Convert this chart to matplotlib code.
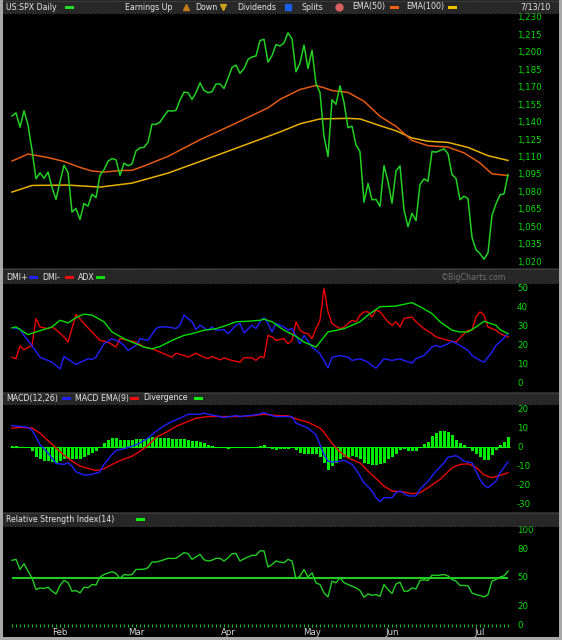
import matplotlib
matplotlib.use("Agg")
import matplotlib.pyplot as plt
from matplotlib.patches import Rectangle
from matplotlib.lines import Line2D
from matplotlib.transforms import blended_transform_factory

# ---------------- data ----------------
# trading days Jan 13 2010 .. Jul 13 2010 (index 0..124)
closes = [1145.68, 1148.46, 1136.03, 1150.23, 1138.04, 1116.48, 1091.76, 1096.78, 1092.17, 1097.50, 1084.53, 1073.87,
          1089.19, 1103.32, 1097.28, 1063.11, 1066.19, 1056.74, 1070.52, 1068.13, 1078.47, 1075.51, 1094.87, 1099.51,
          1106.75, 1109.17, 1108.01, 1094.60, 1105.24, 1102.94, 1104.49,
          1115.71, 1118.31, 1118.79, 1122.97, 1138.70, 1138.50, 1140.45, 1145.61, 1150.24, 1149.99, 1150.51, 1159.46,
          1166.21, 1165.83, 1159.90, 1165.81, 1174.17, 1167.72, 1165.73, 1166.59, 1173.22, 1173.27, 1169.43,
          1178.10, 1187.44, 1189.44, 1182.45, 1186.44, 1194.37, 1196.48, 1197.30, 1210.65, 1211.67, 1192.13, 1197.52,
          1207.17, 1205.94, 1208.67, 1217.28, 1212.05, 1183.71, 1191.36, 1206.78, 1186.69,
          1202.26, 1173.60, 1165.90, 1128.15, 1110.88, 1159.73, 1155.79, 1171.67, 1157.44, 1135.68, 1136.94, 1120.80,
          1115.05, 1071.59, 1087.69, 1073.65, 1074.03, 1067.95, 1103.06, 1089.41,
          1070.71, 1098.38, 1102.83, 1064.88, 1050.47, 1062.00, 1055.69, 1086.84, 1091.60, 1089.63, 1115.23, 1114.61,
          1116.04, 1117.51, 1113.20, 1095.31, 1092.04, 1073.69, 1076.76, 1074.57, 1041.24, 1030.71,
          1027.37, 1022.58, 1028.06, 1060.27, 1070.25, 1077.96, 1078.75, 1095.34]

month_labels = ["Feb", "Mar", "Apr", "May", "Jun", "Jul"]
month_first_idx = [12, 31, 54, 75, 95, 117]

ema50 = [(0, 1107), (4, 1113), (9, 1110), (13, 1106.6), (17, 1101.5), (20, 1098.4), (23, 1097.5), (27, 1098.8),
         (30, 1099), (33, 1102.7), (39, 1111), (47, 1125.3), (55, 1138), (64, 1152.7), (67, 1160), (72, 1168.5),
         (76, 1172), (78, 1170), (80, 1167.6), (84, 1166), (88, 1158.4), (92, 1145.4), (96, 1136.8), (100, 1124.7),
         (104, 1120.2), (109, 1119), (113, 1114), (117, 1105.3), (120, 1096), (124, 1094.5)]
ema100 = [(0, 1080.3), (5, 1086), (14, 1086.3), (22, 1084.6), (30, 1088), (39, 1096.6), (47, 1106.6), (55, 1116.7),
          (67, 1132), (72, 1139), (77, 1143.2), (84, 1143.7), (87, 1143.2), (92, 1137.4), (96, 1133), (100, 1126.8),
          (104, 1124), (109, 1123), (114, 1118.7), (119, 1111.6), (124, 1107.5)]

dmi_plus = [(0, 29.5), (2, 28.6), (3, 25.4), (5, 20), (7, 14), (10, 11.4), (12, 7.9), (13, 14.4), (16, 10.2),
            (19, 13.2), (20, 12.8), (21, 14), (23, 21), (25, 23.7), (27, 21.9), (28, 20.2), (29, 17.5), (31, 20.2),
            (32, 23.7), (34, 22.8), (36, 29), (37, 29.8), (39, 29.8), (41, 29), (42, 30.7), (43, 36), (45, 32.5),
            (46, 28.4), (47, 30.7), (49, 28.1), (50, 29.8), (51, 28.1), (53, 28.4), (54, 26.3), (56, 30.7),
            (57, 31.6), (58, 26.7), (60, 30.7), (61, 29), (62, 32.5), (63, 34.6), (64, 31.6), (65, 27.2),
            (66, 31.6), (68, 29.8), (69, 28.1), (70, 29), (72, 21), (73, 25.4), (75, 19.3), (77, 15.8), (78, 12.3),
            (79, 8.4), (80, 14), (82, 14.9), (84, 14), (85, 12.3), (87, 13.2), (89, 11.4), (90, 9.6), (91, 8.2),
            (93, 13.2), (95, 12.3), (97, 13.2), (98, 12.3), (100, 10.9), (101, 13.2), (103, 14.9), (105, 19.3),
            (106, 20.2), (107, 19.3), (109, 21), (110, 22.3), (112, 20.2), (114, 17.5), (115, 14.9), (117, 12.3),
            (118, 11.4), (120, 16.7), (121, 20.2), (122, 22), (124, 26.3)]
dmi_minus = [(0, 14), (1, 13.2), (2, 19.8), (3, 17.9), (5, 20.2), (6, 34.2), (7, 29.8), (9, 28.9), (10, 29.8),
             (11, 28.4), (13, 24.6), (14, 21.9), (16, 36.3), (18, 31.6), (20, 27.2), (22, 22.8), (24, 21.9),
             (26, 19.3), (27, 23.7), (29, 22.8), (31, 21.9), (33, 19.3), (35, 18.4), (37, 16.7), (40, 14),
             (41, 16.1), (43, 14.9), (44, 14), (46, 16.1), (47, 14.9), (49, 13.2), (50, 14.4), (52, 12.6),
             (53, 13.7), (55, 12.3), (57, 11.4), (58, 13.7), (60, 13.7), (61, 12.3), (62, 14.4), (63, 13.7),
             (64, 25.4), (65, 24.6), (66, 22.8), (68, 23.7), (69, 21), (70, 22.8), (71, 32.5), (72, 28.1),
             (73, 26.7), (74, 26.3), (75, 23.7), (76, 28.9), (77, 33.3), (78, 50), (79, 37.7), (80, 31.6),
             (82, 28.9), (83, 29.8), (85, 33.3), (86, 32.5), (87, 36), (88, 37.7), (89, 37.7), (90, 35),
             (91, 38.6), (92, 37.7), (94, 32.5), (95, 30.7), (96, 32.5), (97, 29.8), (98, 34.2), (100, 35),
             (101, 32.5), (103, 28.9), (105, 26.3), (106, 24.6), (109, 22.8), (111, 21.9), (113, 26.3),
             (114, 28.1), (115, 28.1), (116, 35), (117, 37.7), (118, 36), (119, 29.8), (121, 28.1), (122, 26.3),
             (124, 24.6)]
adx = [(0, 29.3), (1, 29.8), (4, 25.8), (6, 27.2), (10, 29.8), (12, 33.3), (14, 31.9), (16, 34.7), (18, 36.5),
       (20, 36), (23, 32.5), (25, 27.2), (28, 23.7), (30, 21.9), (33, 19.3), (35, 18.4), (37, 19.6), (40, 22.8),
       (43, 25.4), (45, 26.3), (48, 28.1), (51, 28.9), (53, 30.2), (56, 32.5), (59, 32.8), (62, 33.3),
       (63, 33.9), (65, 32.5), (68, 28.1), (71, 24.9), (73, 21.9), (76, 19.3), (78, 24.6), (79, 27.2),
       (83, 28.9), (87, 32.5), (89, 36), (92, 40.4), (96, 40.7), (97, 41.2), (100, 42.5), (102, 40.4),
       (105, 36.8), (107, 32.5), (110, 28.1), (112, 27.2), (114, 27.2), (116, 29.8), (118, 32.8), (121, 30.7),
       (122, 28.4), (124, 26.3)]

macd = [(0, 11.5), (2, 11), (4, 10.5), (5, 9), (6, 5.5), (7, 1.4), (9, -3), (11, -8.5), (13, -9), (14, -8.2),
        (15, -9.9), (16, -12.9), (18, -14.6), (20, -14.3), (22, -12.9), (23, -9), (25, -3.8), (26, -1.7),
        (28, -0.7), (30, 0.5), (32, 2.3), (34, 4.9), (36, 8.4), (38, 11.3), (40, 13.6), (42, 15.3), (44, 17.4),
        (47, 17.4), (48, 18), (49, 17.4), (52, 16.2), (53, 15.7), (56, 16.7), (57, 16.2), (59, 16.7), (61, 17.1),
        (62, 17.6), (63, 18.3), (65, 16.7), (66, 16.2), (69, 16.2), (70, 16.2), (71, 12.7), (73, 11), (74, 10.1),
        (75, 8.4), (76, 6.6), (77, 1.4), (78, -3.8), (79, -7.3), (80, -7.8), (82, -7.3), (83, -6.8), (85, -9),
        (86, -11.7), (88, -18.6), (90, -23), (91, -26.5), (92, -28.6), (93, -26.5), (95, -26.5), (96, -23.9),
        (97, -23), (99, -25.6), (101, -25.6), (102, -22.1), (104, -17.8), (106, -12.5), (108, -8.2), (109, -5.2),
        (111, -4.4), (112, -5.6), (113, -7.3), (115, -8.2), (117, -16.9), (118, -19.9), (119, -21.3),
        (121, -17.8), (122, -13.4), (124, -7.7)]
macd_signal = [(0, 10.1), (2, 10.5), (5, 10.1), (7, 7.5), (9, 3.5), (11, -0.3), (13, -4.2), (15, -7.3),
               (17, -9.9), (19, -11.1), (21, -12.2), (23, -11.3), (25, -9), (27, -7), (30, -4.7), (32, -2.1),
               (34, 1), (36, 5.2), (39, 8.4), (41, 11), (44, 13.6), (46, 15.3), (49, 16.2), (52, 16.2), (54, 16.2),
               (57, 16.2), (60, 16.6), (63, 17.4), (66, 16.7), (69, 16.6), (71, 15), (74, 13.2), (77, 10.1),
               (78, 8.0), (80, 2.0), (82, -2.4), (84, -5.6), (87, -8.2), (89, -12.5), (91, -16.4), (93, -20.4),
               (95, -23), (98, -23.5), (100, -24.4), (102, -23.9), (104, -21.3), (107, -16.9), (110, -10.8),
               (112, -9), (114, -8.7), (116, -10.5), (118, -14.5), (120, -16), (122, -14.8), (124, -13.4)]
macd_hist = [0.5, 0.5, 0.4, 0.3, -0.2, -2.0, -5.2, -6.4, -7.0, -7.3, -7.7, -8.2, -7.3, -6.4, -5.9, -6.1, -6.3,
             -5.9, -5.2, -4.2, -3.0, -2.1, -0.3, 2.3, 4.0, 4.9, 4.9, 4.0, 4.0, 4.0, 4.0, 4.5, 4.5, 4.5, 4.9, 5.2,
             5.2, 4.9, 4.9, 4.9, 4.5, 4.5, 4.5, 4.4, 4.0, 3.1, 3.1, 2.8, 2.3, 1.4, 0.5, 0.2, 0.1, -0.5, -1.0,
             -0.5, 0.2, 0.1, 0.2, 0.1, 0.3, 0.2, 0.5, 1.4, -0.3, -1.0, -1.2, -1.0, -1.0, -0.8, -0.5, -1.5, -3.0,
             -3.5, -3.3, -3.5, -3.3, -5.0, -8.0, -11.8, -10.0, -8.0, -6.0, -5.0, -5.5, -4.5, -5.0, -6.0, -8.5,
             -9.0, -9.5, -9.3, -9.0, -8.0, -6.0, -5.0, -3.5, -1.5, -1.0, -1.7, -2.2, -2.0, -0.5, 2.0, 3.0, 6.0,
             7.5, 8.5, 8.5, 8.2, 6.5, 4.0, 2.5, 1.0, 0.0, -2.0, -3.5, -5.0, -6.5, -6.5, -4.0, -1.5, 1.0, 3.0, 5.5]

rsi = [68.4, 69.4, 58.8, 64.8, 57.0, 50.0, 37.6, 39.4, 38.7, 40.1, 36.0, 33.0, 42.0, 47.2, 45.0, 35.9, 36.6,
       34.1, 40.1, 39.5, 42.9, 42.5, 50.7, 53.5, 55.0, 56.4, 54.6, 49.3, 53.5, 52.8, 53.5, 58.8, 58.8, 59.0,
       60.6, 66.6, 66.5, 67.7, 69.0, 70.5, 70.3, 70.5, 73.5, 76.5, 75.4, 69.4, 72.0, 74.7, 69.0, 67.7, 68.5,
       70.5, 70.5, 67.7, 71.0, 75.4, 75.5, 67.7, 70.0, 71.9, 73.7, 73.7, 78.3, 78.3, 61.3, 64.0, 67.7, 66.5,
       65.9, 69.4, 67.7, 48.9, 51.8, 58.8, 50.7, 55.3, 44.7, 42.9, 34.1, 29.9, 46.5, 44.7, 50.0, 45.0, 42.9,
       41.2, 39.4, 36.6, 29.5, 33.0, 31.6, 32.3, 30.6, 42.9, 37.6, 33.5, 43.5, 45.4, 35.9, 36.0, 39.4, 38.3,
       47.2, 48.0, 47.2, 52.8, 52.5, 52.8, 53.5, 52.0, 48.2, 46.5, 41.9, 42.0, 41.5, 34.0, 32.3, 31.3, 29.9,
       32.3, 46.5, 48.2, 50.7, 52.0, 57.0]

price_ticks = [1230, 1215, 1200, 1185, 1170, 1155, 1140, 1125, 1110, 1095, 1080, 1065, 1050, 1035, 1020]
dmi_ticks = [50, 40, 30, 20, 10, 0]
macd_ticks = [20, 10, 0, -10, -20, -30]
rsi_ticks = [100, 80, 50, 20, 0]

# ---------------- style ----------------
W, H = 562, 640
FONT = "DejaVu Sans"
LBL_GREEN = "#00dd00"
HDR_BG = "#272727"
HDR_TXT = "#e6e6e6"
HDR_SIZE = 5.7

fig = plt.figure(figsize=(W / 100, H / 100), dpi=100)
fig.patch.set_facecolor("#a8a8a8")


def fx(px):
    return px / W


def fy(py):
    return 1 - py / H


X0, X1 = 3, 559


def header(top, bottom):
    fig.add_artist(Rectangle((fx(X0), fy(bottom)), fx(X1) - fx(X0), (bottom - top) / H,
                             transform=fig.transFigure, facecolor=HDR_BG, edgecolor="none", zorder=0))
    for yy in (top + 0.5, bottom - 0.5):
        fig.add_artist(Line2D([fx(X0), fx(X1)], [fy(yy), fy(yy)], transform=fig.transFigure,
                              color="#5a5a5a", lw=0.6, linestyle=(0, (1, 1))))


def htext(px, py, s, color=HDR_TXT, size=HDR_SIZE):
    fig.text(fx(px), fy(py), s, color=color, fontsize=size, family=FONT, ha="left", va="center")


def swatch(px, py, color, w=9, h=3):
    fig.add_artist(Rectangle((fx(px), fy(py + h / 2)), w / W, h / H, transform=fig.transFigure,
                             facecolor=color, edgecolor="none"))


def marker(px, py, m, color, ms=5):
    fig.add_artist(Line2D([fx(px)], [fy(py)], transform=fig.transFigure, marker=m, ms=ms,
                          color=color, markeredgecolor=color, linestyle="none"))


def panel(top, bottom, ylim):
    ax = fig.add_axes([fx(X0), fy(bottom), fx(X1) - fx(X0), (bottom - top) / H])
    ax.set_facecolor("black")
    ax.set_xlim((X0 - 12) / 4, (X1 - 12) / 4)
    ax.set_ylim(*ylim)
    ax.set_xticks([])
    ax.set_yticks([])
    for s in ax.spines.values():
        s.set_visible(False)
    return ax


def ylabels(ax, ticks, fmt):
    tr = blended_transform_factory(ax.transAxes, ax.transData)
    xa = (517 - X0) / (X1 - X0)
    for t in ticks:
        ax.text(xa, t, fmt(t), transform=tr, color=LBL_GREEN, fontsize=6.2, family=FONT,
                ha="left", va="center")


def xy(pairs):
    return [p[0] for p in pairs], [p[1] for p in pairs]


days = list(range(len(closes)))

# ---------------- headers ----------------
header(0, 13)
htext(6, 7, "US:SPX Daily")
swatch(65, 7, "#22dd22")
htext(125, 7, "Earnings Up")
marker(185.5, 7, "^", "#c07a1c", ms=5)
htext(195, 7, "Down")
marker(223, 7, "v", "#c8a01c", ms=5)
htext(237, 7, "Dividends")
marker(287.5, 7, "s", "#1a5ee8", ms=5)
htext(302, 7, "Splits")
marker(338.5, 7, "o", "#d86060", ms=5)
htext(352, 7, "EMA(50)")
swatch(390, 7, "#ee6010")
htext(406, 7, "EMA(100)")
swatch(448, 7, "#f0c000")
htext(520, 7, "7/13/10")

header(268, 283)
htext(6, 277, "DMI+")
swatch(29, 277, "#2020ff")
htext(42, 277, "DMI-")
swatch(65, 277, "#ee1010")
htext(78, 277, "ADX")
swatch(96, 277, "#10dd10")
htext(441, 277, "\u00a9BigCharts.com", color="#6e6e6e")

header(392, 404)
htext(6, 398, "MACD(12,26)")
swatch(62, 398, "#2020ff")
htext(75, 398, "MACD EMA(9)")
swatch(130, 398, "#ee1010")
htext(143, 398, "Divergence")
swatch(194, 398, "#10ee10")

header(512, 526)
htext(6, 519, "Relative Strength Index(14)")
swatch(136, 519, "#10ee10")

# ---------------- price panel ----------------
axp = panel(13, 268, (1015.0, 1234.3))
ex, ev = xy(ema100)
axp.plot(ex, ev, color="#e8b000", lw=1.1)
ex, ev = xy(ema50)
axp.plot(ex, ev, color="#e45a12", lw=1.1)
axp.plot(days, closes, color="#22d022", lw=1.1)
ylabels(axp, price_ticks, lambda v: f"{v:,}")

# ---------------- DMI panel ----------------
axd = panel(283, 392, (-4.18, 52.77))
dx, dv = xy(dmi_minus)
axd.plot(dx, dv, color="#ee0000", lw=1.0)
dx, dv = xy(dmi_plus)
axd.plot(dx, dv, color="#2020ff", lw=1.0)
dx, dv = xy(adx)
axd.plot(dx, dv, color="#00dd00", lw=1.0)
ylabels(axd, dmi_ticks, lambda v: f"{v}")

# ---------------- MACD panel ----------------
axm = panel(404, 512, (-34.05, 22.8))
axm.hlines(0, days[0] - 0.4, days[-1] + 0.4, color="#00ee00", lw=0.8)
axm.bar(days, macd_hist, width=0.75, color="#00ee00", linewidth=0)
mx, mv = xy(macd_signal)
axm.plot(mx, mv, color="#ee0000", lw=1.0)
mx, mv = xy(macd)
axm.plot(mx, mv, color="#2020ff", lw=1.0)
ylabels(axm, macd_ticks, lambda v: f"{v}")

# ---------------- RSI panel ----------------
axr = panel(526, 637, (-12.3, 104.5))
axr.hlines(50, days[0], days[-1], color="#22cc22", lw=1.5)
axr.vlines(days, -1.3, 1.3, color="#22bb22", lw=0.8)
axr.plot(days, rsi, color="#22cc22", lw=1.0)
ylabels(axr, rsi_ticks, lambda v: f"{v}")
for lbl, idx in zip(month_labels, month_first_idx):
    axr.text(idx, -7.3, lbl, color="#d8d8d8", fontsize=6.2, family=FONT, ha="center", va="center")

fig.savefig("out.png", dpi=100, facecolor=fig.get_facecolor())
